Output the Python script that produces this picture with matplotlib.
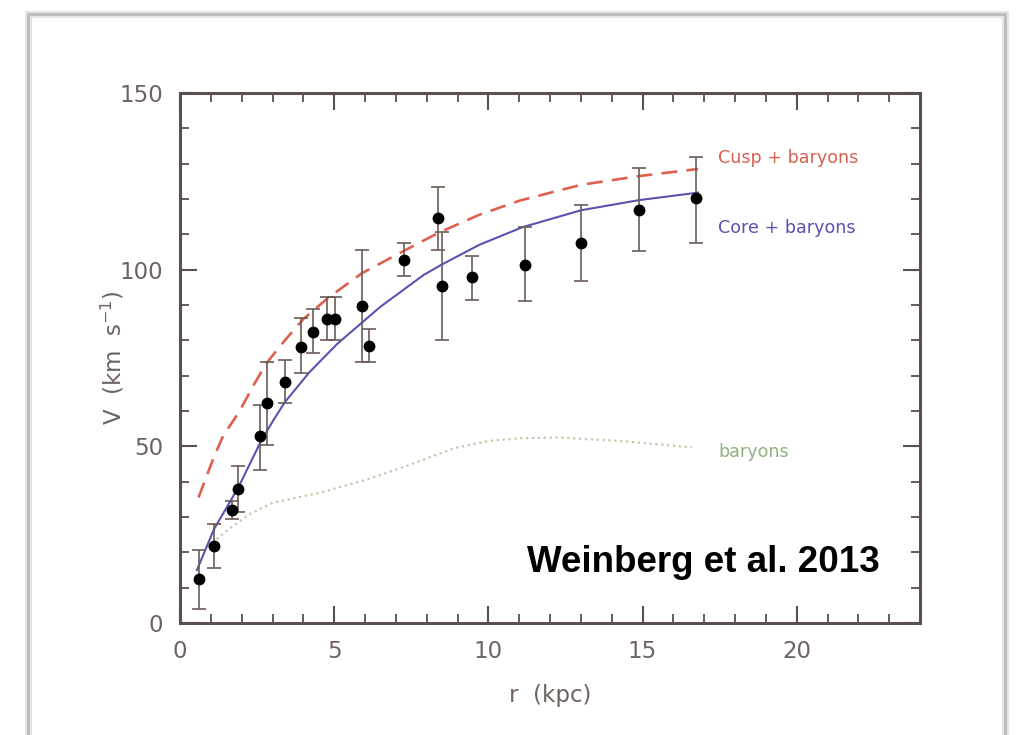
import matplotlib
matplotlib.use('Agg')
import matplotlib.pyplot as plt
from matplotlib.patches import Rectangle
from matplotlib.ticker import MultipleLocator

# observed rotation curve (r in kpc, V in km/s) with asymmetric errors
r_obs = [0.60, 1.09, 1.68, 1.89, 2.59, 2.81, 3.40, 3.94, 4.31, 4.77, 5.03,
         5.89, 6.14, 7.27, 8.38, 8.50, 9.47, 11.19, 13.02, 14.88, 16.75]
v_obs = [12.4, 21.8, 32.0, 37.8, 52.9, 62.4, 68.3, 78.2, 82.5, 86.0, 86.0,
         89.7, 78.4, 102.7, 114.5, 95.4, 97.8, 101.3, 107.5, 116.9, 120.2]
err_lo = [8.4, 6.2, 2.5, 6.3, 9.6, 12.0, 6.0, 7.5, 6.2, 6.0, 6.0,
          15.7, 4.4, 4.5, 8.9, 15.3, 6.4, 10.1, 10.6, 11.7, 12.6]
err_hi = [8.3, 6.2, 2.5, 6.5, 8.8, 11.6, 6.1, 8.0, 6.5, 6.4, 6.4,
          15.9, 4.7, 4.8, 8.8, 15.4, 6.1, 10.9, 10.8, 11.8, 11.6]

# model curves
r_cusp = [0.6, 1.1, 1.4, 1.9, 2.4, 2.8, 3.4, 4.0, 4.8, 5.9, 7.3, 8.4, 9.7, 11.0, 13.0, 14.9, 16.8]
v_cusp = [35.5, 47.0, 53.0, 59.5, 67.5, 73.5, 80.0, 86.0, 92.0, 99.0, 105.5, 110.5, 115.5, 119.5, 124.0, 126.5, 128.5]

r_core = [0.55, 1.1, 1.5, 1.9, 2.6, 3.0, 3.4, 4.2, 5.1, 5.9, 6.5, 7.2, 7.9, 8.5, 9.7, 11.1, 13.0, 14.9, 16.8]
v_core = [15.0, 26.5, 32.5, 38.5, 51.0, 57.0, 62.5, 71.0, 79.0, 85.0, 89.5, 94.0, 98.5, 101.5, 107.0, 112.0, 116.8, 119.7, 121.8]

r_bar = [0.9, 1.5, 2.2, 3.0, 4.6, 6.2, 7.3, 8.9, 10.0, 11.0, 12.3, 14.3, 16.6]
v_bar = [21.5, 26.0, 30.5, 34.0, 37.0, 41.0, 44.3, 49.5, 51.5, 52.3, 52.5, 51.5, 49.7]

axis_col = '#6e6360'
spine_col = '#5a504d'

fig = plt.figure(figsize=(10.18, 7.35), dpi=100)
fig.patch.set_facecolor('white')

# screenshot card frame
fig.patches.append(Rectangle((28 / 1018, -0.05), 977 / 1018, 1.05 - 14 / 735,
                             transform=fig.transFigure, fill=False,
                             edgecolor='#e4e4e4', linewidth=5, zorder=0))
fig.patches.append(Rectangle((28 / 1018, -0.05), 977 / 1018, 1.05 - 14 / 735,
                             transform=fig.transFigure, fill=False,
                             edgecolor='#b8b8b8', linewidth=1.8, zorder=0))

ax = fig.add_axes([180 / 1018, 112 / 735, 740 / 1018, 530 / 735])

ax.plot(r_bar, v_bar, linestyle=':', color='#bccaad', linewidth=1.6)
ax.plot(r_cusp, v_cusp, linestyle=(0, (6, 3.5)), color='#e0604f', linewidth=1.9)
ax.plot(r_core, v_core, linestyle='-', color='#5b52b0', linewidth=1.5)

ax.errorbar(r_obs, v_obs, yerr=[err_lo, err_hi], fmt='o', color='black',
            markersize=7.5, ecolor='#6a5c58', elinewidth=1.2, capsize=5,
            capthick=1.2, zorder=5)

# curve labels
ax.text(17.45, 131.6, 'Cusp + baryons', color='#d9604f', fontsize=12.6, va='center')
ax.text(17.45, 111.8, 'Core + baryons', color='#5b52b0', fontsize=12.6, va='center')
ax.text(17.45, 48.4, 'baryons', color='#8fb080', fontsize=12.6, va='center')

ax.text(22.7, 17, 'Weinberg et al. 2013', fontsize=26.5, fontweight='bold',
        family='Liberation Sans', color='black', ha='right', va='center')

ax.set_xlim(0, 24)
ax.set_ylim(0, 150)
ax.xaxis.set_major_locator(MultipleLocator(5))
ax.xaxis.set_minor_locator(MultipleLocator(1))
ax.yaxis.set_major_locator(MultipleLocator(50))
ax.yaxis.set_minor_locator(MultipleLocator(10))

ax.tick_params(which='both', direction='in', top=True, right=True,
               color=spine_col, labelcolor=axis_col, labelsize=16.5)
ax.tick_params(which='major', length=12, width=1.5, pad=12)
ax.tick_params(which='minor', length=6.5, width=1.3)

for sp in ax.spines.values():
    sp.set_color(spine_col)
    sp.set_linewidth(2.2)

ax.set_xlabel('r  (kpc)', fontsize=16.5, color=axis_col)
ax.set_ylabel('V  (km  s$^{-1}$)', fontsize=16.5, color=axis_col)
ax.xaxis.set_label_coords(0.5, -0.136)
ax.xaxis.label.set_verticalalignment('center')
ax.yaxis.set_label_coords(-0.091, 0.5)
ax.yaxis.label.set_verticalalignment('center')

fig.savefig('out.png', dpi=100)
